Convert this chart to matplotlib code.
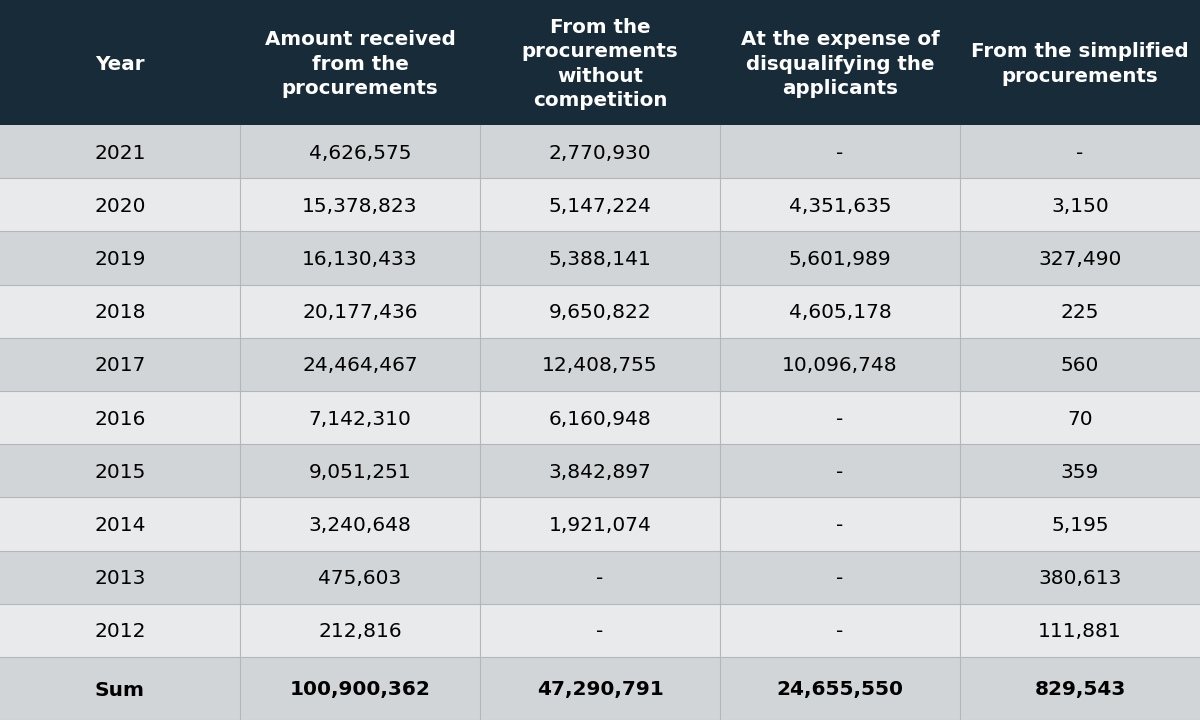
import matplotlib.pyplot as plt
from matplotlib.patches import Rectangle

headers = ['Year', 'Amount received\nfrom the\nprocurements',
           'From the\nprocurements\nwithout\ncompetition',
           'At the expense of\ndisqualifying the\napplicants',
           'From the simplified\nprocurements']
years = ['2021', '2020', '2019', '2018', '2017', '2016', '2015', '2014', '2013', '2012']
amount = ['4,626,575', '15,378,823', '16,130,433', '20,177,436', '24,464,467',
          '7,142,310', '9,051,251', '3,240,648', '475,603', '212,816']
no_competition = ['2,770,930', '5,147,224', '5,388,141', '9,650,822', '12,408,755',
                  '6,160,948', '3,842,897', '1,921,074', '-', '-']
disqualifying = ['-', '4,351,635', '5,601,989', '4,605,178', '10,096,748',
                 '-', '-', '-', '-', '-']
simplified = ['-', '3,150', '327,490', '225', '560', '70', '359', '5,195',
              '380,613', '111,881']
totals = ['Sum', '100,900,362', '47,290,791', '24,655,550', '829,543']

W, H = 1200, 720
col_w = 240
head_h = 125
row_h = 53.2
sum_h = H - head_h - row_h * len(years)

fig = plt.figure(figsize=(12, 7.2), dpi=100)
ax = fig.add_axes([0, 0, 1, 1])
ax.set_xlim(0, W)
ax.set_ylim(H, 0)
ax.axis('off')

head_col = '#182b38'
dark_row = '#d1d5d8'
light_row = '#e9eaec'
grid_col = '#b3b7bb'

ax.add_patch(Rectangle((0, 0), W, head_h, color=head_col, lw=0))
for j, h in enumerate(headers):
    ax.text(col_w * j + col_w / 2, head_h / 2 + 1.5, h, ha='center', va='center',
            color='white', fontsize=14.3, fontweight='bold', linespacing=1.34)

cols = list(zip(years, amount, no_competition, disqualifying, simplified))
for i, row in enumerate(cols):
    y0 = head_h + i * row_h
    ax.add_patch(Rectangle((0, y0), W, row_h, facecolor=dark_row if i % 2 == 0 else light_row,
                           edgecolor='none'))
    for j, v in enumerate(row):
        ax.text(col_w * j + col_w / 2, y0 + row_h / 2 + 1.5, v, ha='center', va='center',
                color='black', fontsize=14.5)

y0 = head_h + len(years) * row_h
ax.add_patch(Rectangle((0, y0), W, sum_h, facecolor=dark_row, edgecolor='none'))
for j, v in enumerate(totals):
    ax.text(col_w * j + col_w / 2, y0 + sum_h / 2 + 1.5, v, ha='center', va='center',
            color='black', fontsize=14.5, fontweight='bold')

# grid lines
for i in range(1, len(years) + 1):
    y = head_h + i * row_h
    ax.plot([0, W], [y, y], color=grid_col, lw=0.8)
for j in range(1, 5):
    ax.plot([col_w * j, col_w * j], [head_h, H], color=grid_col, lw=0.8)
ax.plot([0, W], [H - 0.5, H - 0.5], color=grid_col, lw=0.8)

fig.savefig('out.png', dpi=100)
